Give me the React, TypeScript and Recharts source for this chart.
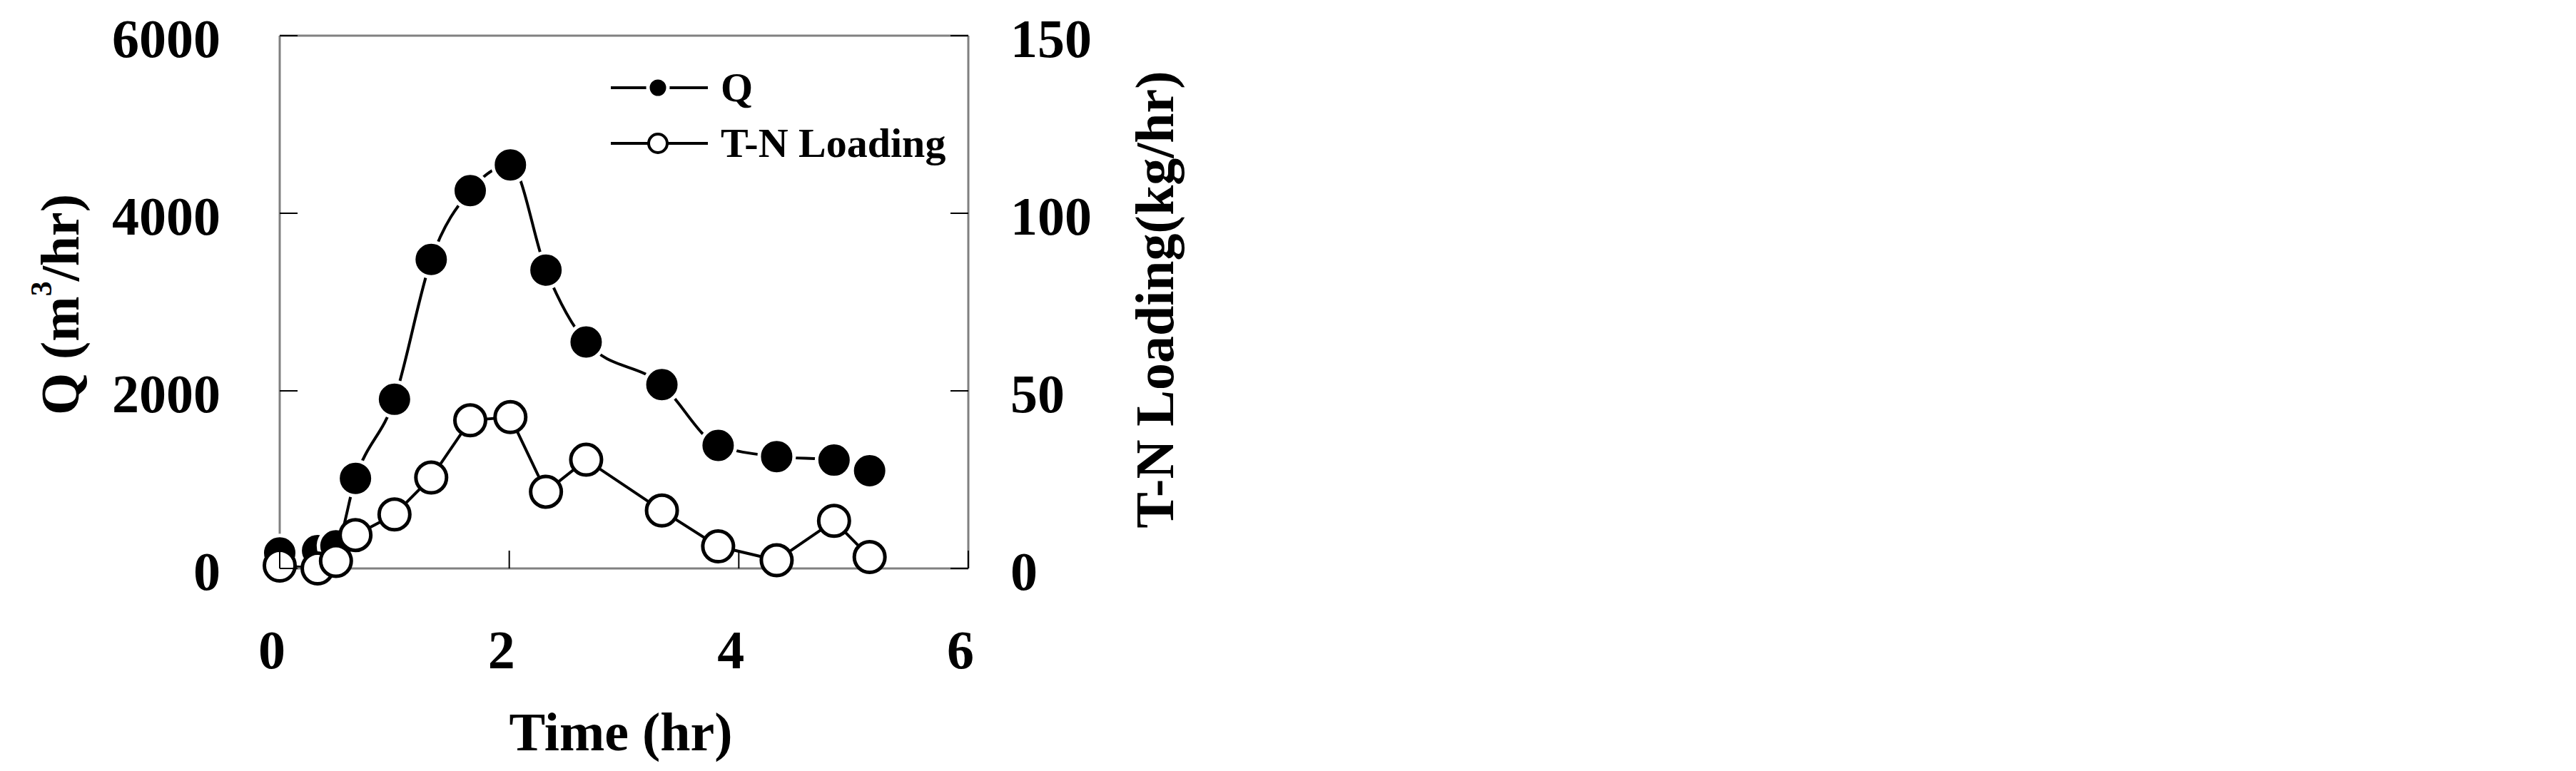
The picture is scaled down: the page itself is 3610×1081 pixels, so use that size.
import React from 'react';
import { LineChart, Line, XAxis, YAxis, ReferenceLine, Legend } from 'recharts';

// sampling times (hr) shared by both series
const timeHr = [0, 0.33, 0.49, 0.66, 1.0, 1.32, 1.66, 2.01, 2.32, 2.67, 3.33, 3.82, 4.33, 4.83, 5.14];
// flow Q (m3/hr)
const flowQ = [175, 200, 255, 1015, 1905, 3480, 4255, 4545, 3360, 2550, 2070, 1385, 1260, 1220, 1100];
// T-N loading (kg/hr)
const tnLoading = [0.8, 0, 2.1, 9.4, 15.2, 25.6, 41.7, 42.6, 21.6, 30.6, 16.3, 6.2, 2.3, 13.4, 3.2];

const timeTicks = [0, 2, 4, 6];
const qTicks = [0, 2000, 4000, 6000];
const tnTicks = [0, 50, 100, 150];

const data = timeHr.map((t, i) => ({ t, q: flowQ[i], tn: tnLoading[i] }));

const FONT = '"Liberation Serif", "Times New Roman", serif';
const W = 1700;
const H = 1073;
const PL = 384;
const PT = 42;
const PR = 1349;
const PB = 789;
const TICK = 25;
const GREY = '#808080';
const FS = 76;

const txt = { fontFamily: FONT, fontWeight: 'bold' as const, fontSize: FS, fill: '#000' };

const LeftTick = (props: any) => {
  const y = props.payload?.coordinate ?? props.y;
  return (
    <g>
      <line x1={PL} x2={PL + TICK} y1={y} y2={y} stroke="#000" strokeWidth={2} />
      <text x={301} y={y + 30} textAnchor="end" {...txt}>{props.payload.value}</text>
    </g>
  );
};

const RightTick = (props: any) => {
  const y = props.payload?.coordinate ?? props.y;
  return (
    <g>
      <line x1={PR - TICK} x2={PR} y1={y} y2={y} stroke="#000" strokeWidth={2} />
      <text x={1408} y={y + 30} textAnchor="start" {...txt}>{props.payload.value}</text>
    </g>
  );
};

const BottomTick = (props: any) => {
  const x = props.payload?.coordinate ?? props.x;
  return (
    <g>
      <line x1={x} x2={x} y1={PB} y2={PB - TICK} stroke="#000" strokeWidth={2} />
      <text x={x - 11} y={PB + 140} textAnchor="middle" {...txt}>{props.payload.value}</text>
    </g>
  );
};

const TimeTitle = () => (
  <text x={862} y={1044} textAnchor="middle" {...txt}>Time (hr)</text>
);

const QTitle = () => (
  <text x={102} y={419} transform="rotate(-90, 102, 419)" textAnchor="middle" {...txt}>
    Q (m<tspan fontSize={42} dy={-38}>3</tspan><tspan dy={38}>/hr)</tspan>
  </text>
);

const TnTitle = () => (
  <text x={1636} y={412} transform="rotate(-90, 1636, 412)" textAnchor="middle" {...txt}>
    T-N Loading(kg/hr)
  </text>
);

const legendRows = [
  { name: 'Q', filled: true },
  { name: 'T-N Loading', filled: false },
];

const LegendBox = () => (
  <div style={{ fontFamily: FONT, fontWeight: 'bold', fontSize: 58, color: '#000' }}>
    {legendRows.map(row => (
      <div key={row.name} style={{ display: 'flex', alignItems: 'center', height: 78 }}>
        <svg width={136} height={78}>
          <line x1={0} x2={136} y1={39} y2={39} stroke="#000" strokeWidth={4} />
          {row.filled ? (
            <circle cx={66} cy={39} r={14} fill="#000" stroke="#fff" strokeWidth={5} />
          ) : (
            <circle cx={66} cy={39} r={13} fill="#fff" stroke="#000" strokeWidth={4} />
          )}
        </svg>
        <span style={{ marginLeft: 18, lineHeight: 1 }}>{row.name}</span>
      </div>
    ))}
  </div>
);

export default function App() {
  return (
    <LineChart width={W} height={H} data={data} margin={{ top: PT, right: 0, bottom: 0, left: 0 }}>
      <XAxis
        dataKey="t"
        type="number"
        domain={[0, 6]}
        ticks={timeTicks}
        height={H - PB}
        axisLine={{ stroke: GREY, strokeWidth: 3 }}
        tickLine={false}
        tick={<BottomTick />}
        label={<TimeTitle />}
      />
      <YAxis
        yAxisId="q"
        orientation="left"
        domain={[0, 6000]}
        ticks={qTicks}
        width={PL}
        axisLine={{ stroke: GREY, strokeWidth: 3 }}
        tickLine={false}
        tick={<LeftTick />}
        label={<QTitle />}
      />
      <YAxis
        yAxisId="tn"
        orientation="right"
        domain={[0, 150]}
        ticks={tnTicks}
        width={W - PR}
        axisLine={{ stroke: GREY, strokeWidth: 3 }}
        tickLine={false}
        tick={<RightTick />}
        label={<TnTitle />}
      />
      <ReferenceLine yAxisId="q" y={6000} stroke={GREY} strokeWidth={3} />
      <Legend
        layout="horizontal"
        verticalAlign="middle"
        align="center"
        wrapperStyle={{ top: 76, left: 848, width: 'auto', height: 'auto' }}
        content={<LegendBox />}
      />
      <Line
        yAxisId="q"
        dataKey="q"
        type="monotone"
        stroke="#000"
        strokeWidth={4}
        dot={{ r: 24.5, fill: '#000', stroke: '#fff', strokeWidth: 5 }}
        activeDot={false}
        isAnimationActive={false}
      />
      <Line
        yAxisId="tn"
        dataKey="tn"
        type="linear"
        stroke="#000"
        strokeWidth={4}
        dot={{ r: 21.5, fill: '#fff', stroke: '#000', strokeWidth: 5 }}
        activeDot={false}
        isAnimationActive={false}
      />
    </LineChart>
  );
}
